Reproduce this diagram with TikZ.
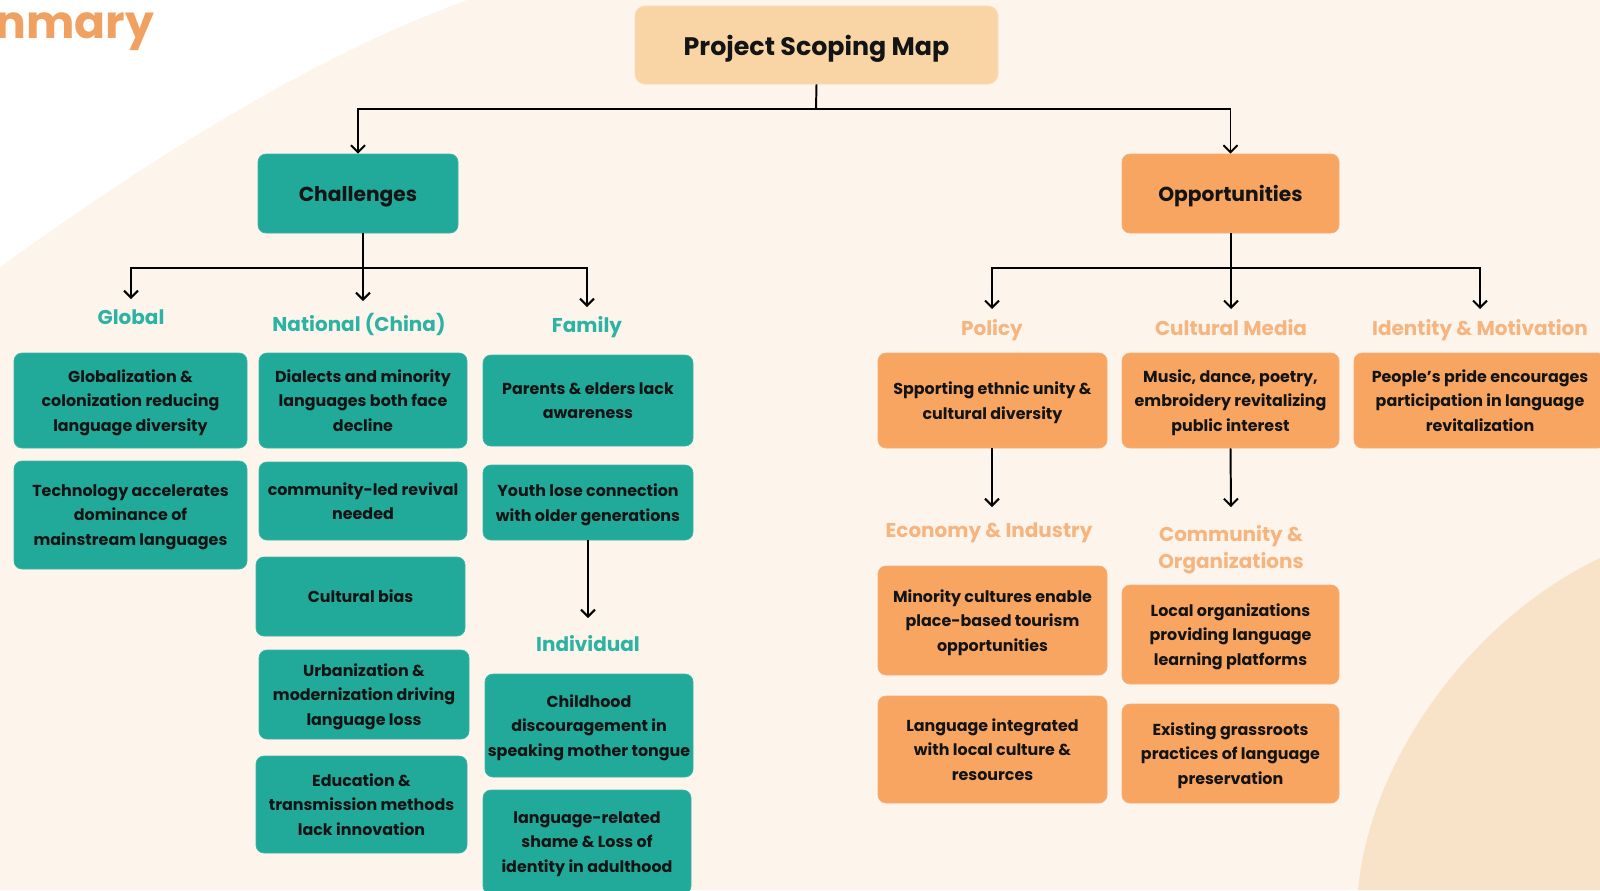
\documentclass[tikz,border=0pt]{standalone}
\usepackage{fontspec}
\setmainfont{Poppins}
\usetikzlibrary{arrows.meta}

\definecolor{bgcream}{HTML}{FDF5EC}
\definecolor{bgpeach}{HTML}{F9E3C8}
\definecolor{chteal}{HTML}{21A999}
\definecolor{chtealedge}{HTML}{3DB5A7}
\definecolor{lblteal}{HTML}{2DB3A3}
\definecolor{oporange}{HTML}{F7A560}
\definecolor{oporangeedge}{HTML}{F2B07A}
\definecolor{lblorange}{HTML}{F6B47F}
\definecolor{topfill}{HTML}{F9D5A6}
\definecolor{topedge}{HTML}{F6DDBB}
\definecolor{headorange}{HTML}{F0A060}

\newcommand\bxfont{\fontsize{11.3}{17.5}\selectfont\bfseries}
\newcommand\lblfont{\fontsize{14.2}{19.8}\selectfont\bfseries}
\newcommand\hdfont{\fontsize{14.4}{18}\selectfont\bfseries}

\begin{document}
\begin{tikzpicture}[x=0.025cm,y=-0.025cm,
  wh/.style 2 args={minimum width=#1*0.025cm, minimum height=#2*0.025cm},
  basebox/.style={rounded corners=0.2cm, align=center, inner sep=0pt, text depth=0pt, text=black!92, line width=0.5pt},
  tbox/.style={basebox, fill=chteal, draw=chtealedge, font=\bxfont},
  obox/.style={basebox, fill=oporange, draw=oporangeedge, font=\bxfont},
  topbox/.style={basebox, rounded corners=0.25cm, fill=topfill, draw=topedge, font=\fontsize{18}{22}\selectfont\bfseries},
  headt/.style={tbox, font=\hdfont},
  heado/.style={obox, font=\hdfont},
  tlbl/.style={anchor=north, inner sep=0pt, align=center, font=\lblfont, text=lblteal},
  olbl/.style={anchor=north, inner sep=0pt, align=center, font=\lblfont, text=lblorange},
  conn/.style={line width=1.4pt, black},
  arr/.style={conn, -{Straight Barb[length=5pt,width=10pt]}}
]
\useasboundingbox (0,0) rectangle (1600,890);
\clip (0,0) rectangle (1600,890);

% backdrop: cream page, white sweep top left, peach sweep bottom right
\fill[bgcream] (0,0) rectangle (1600,890);
\fill[white] (0,0) -- (0,267) .. controls (120,180) and (300,60) .. (467,0) -- cycle;
\fill[bgpeach] (1358,890) .. controls (1370,760) and (1470,620) .. (1600,558) -- (1600,890) -- cycle;

\node[anchor=base west, inner sep=0pt, text=headorange, font=\fontsize{32.5}{38}\selectfont\bfseries] (heading) at (-5,38) {nmary};

% root and the two main branches
\node[topbox, wh={363}{78}] (top) at (816.5,45) {Project Scoping Map};
\node[headt, wh={200}{79}] (chal) at (358,193.5) {Challenges};
\node[heado, wh={217}{79}] (opp) at (1230.5,193.5) {Opportunities};

% challenge groups
\node[tlbl, outer ysep=11*0.025cm] (glob) at (131,299) {Global};
\node[tlbl, outer ysep=12*0.025cm] (natl) at (359,301) {National (China)};
\node[tlbl, outer ysep=9*0.025cm] (fam) at (587,307) {Family};
\node[tlbl, outer ysep=17*0.025cm] (indiv) at (588,618) {Individual};

\node[tbox, wh={233}{95}] (g1) at (130.5,400.5) {Globalization \&\\colonization reducing\\language diversity};
\node[tbox, wh={233}{108}] (g2) at (130.5,515) {Technology accelerates\\dominance of\\mainstream languages};

\node[tbox, wh={208}{95}] (n1) at (363,400.5) {Dialects and minority\\languages both face\\decline};
\node[tbox, wh={208}{78}] (n2) at (363,501) {community-led revival\\needed};
\node[tbox, wh={209}{79}] (n3) at (360.5,596.5) {Cultural bias};
\node[tbox, wh={210}{89}] (n4) at (364,694.5) {Urbanization \&\\modernization driving\\language loss};
\node[tbox, wh={211}{97}] (n5) at (361.5,804.5) {Education \&\\transmission methods\\lack innovation};

\node[tbox, wh={210}{91}] (f1) at (588,400.5) {Parents \& elders lack\\awareness};
\node[tbox, wh={210}{75}] (f2) at (588,502.5) {Youth lose connection\\with older generations};

\node[tbox, wh={208}{103}] (i1) at (589,725.5) {Childhood\\discouragement in\\speaking mother tongue};
\node[tbox, wh={208}{104}] (i2) at (587,842) {language-related\\shame \& Loss of\\identity in adulthood};

% opportunity groups
\node[olbl, outer ysep=10*0.025cm] (pol) at (992,309) {Policy};
\node[olbl, outer ysep=10*0.025cm] (cmed) at (1231,309) {Cultural Media};
\node[olbl, outer ysep=10*0.025cm] (ident) at (1480,309) {Identity \& Motivation};
\node[olbl, outer ysep=16*0.025cm] (econ) at (989,507) {Economy \& Industry};
\node[olbl, outer ysep=18*0.025cm] (comm) at (1231,507) {Community \&\\Organizations};

\node[obox, wh={229}{95}] (p1) at (992.5,400.5) {Spporting ethnic unity \&\\cultural diversity};
\node[obox, wh={217}{95}] (c1) at (1230.5,400.5) {Music, dance, poetry,\\embroidery revitalizing\\public interest};
\node[obox, wh={252}{95}] (id1) at (1480,400.5) {People’s pride encourages\\participation in language\\revitalization};

\node[obox, wh={229}{109}] (e1) at (992.5,620.5) {Minority cultures enable\\place-based tourism\\opportunities};
\node[obox, wh={229}{107}] (e2) at (992.5,749.5) {Language integrated\\with local culture \&\\resources};
\node[obox, wh={217}{99}] (co1) at (1230.5,634.5) {Local organizations\\providing language\\learning platforms};
\node[obox, wh={217}{99}] (co2) at (1230.5,753.5) {Existing grassroots\\practices of language\\preservation};

% connectors
\coordinate (j0) at (816,109);
\draw[conn] (top.south) -- (j0);
\draw[arr] (j0) -| (chal.north);
\draw[arr] (j0) -| (opp.north);

\coordinate (j1) at (363,268);
\draw[conn] (chal.south -| j1) -- (j1);
\draw[arr] (j1) -| (glob.north);
\draw[arr] (j1) -- (j1 |- natl.north);
\draw[arr] (j1) -| (fam.north);
\draw[arr] (f2.south) -- (indiv.north);

\coordinate (j2) at (1231,268);
\draw[conn] (opp.south -| j2) -- (j2);
\draw[arr] (j2) -- (cmed.north);
\draw[arr] (j2) -| (pol.north);
\draw[arr] (j2) -| (ident.north);
\draw[arr] (p1.south -| pol.north) -- (pol.north |- econ.north);
\draw[arr] (c1.south) -- (comm.north);
\end{tikzpicture}
\end{document}
